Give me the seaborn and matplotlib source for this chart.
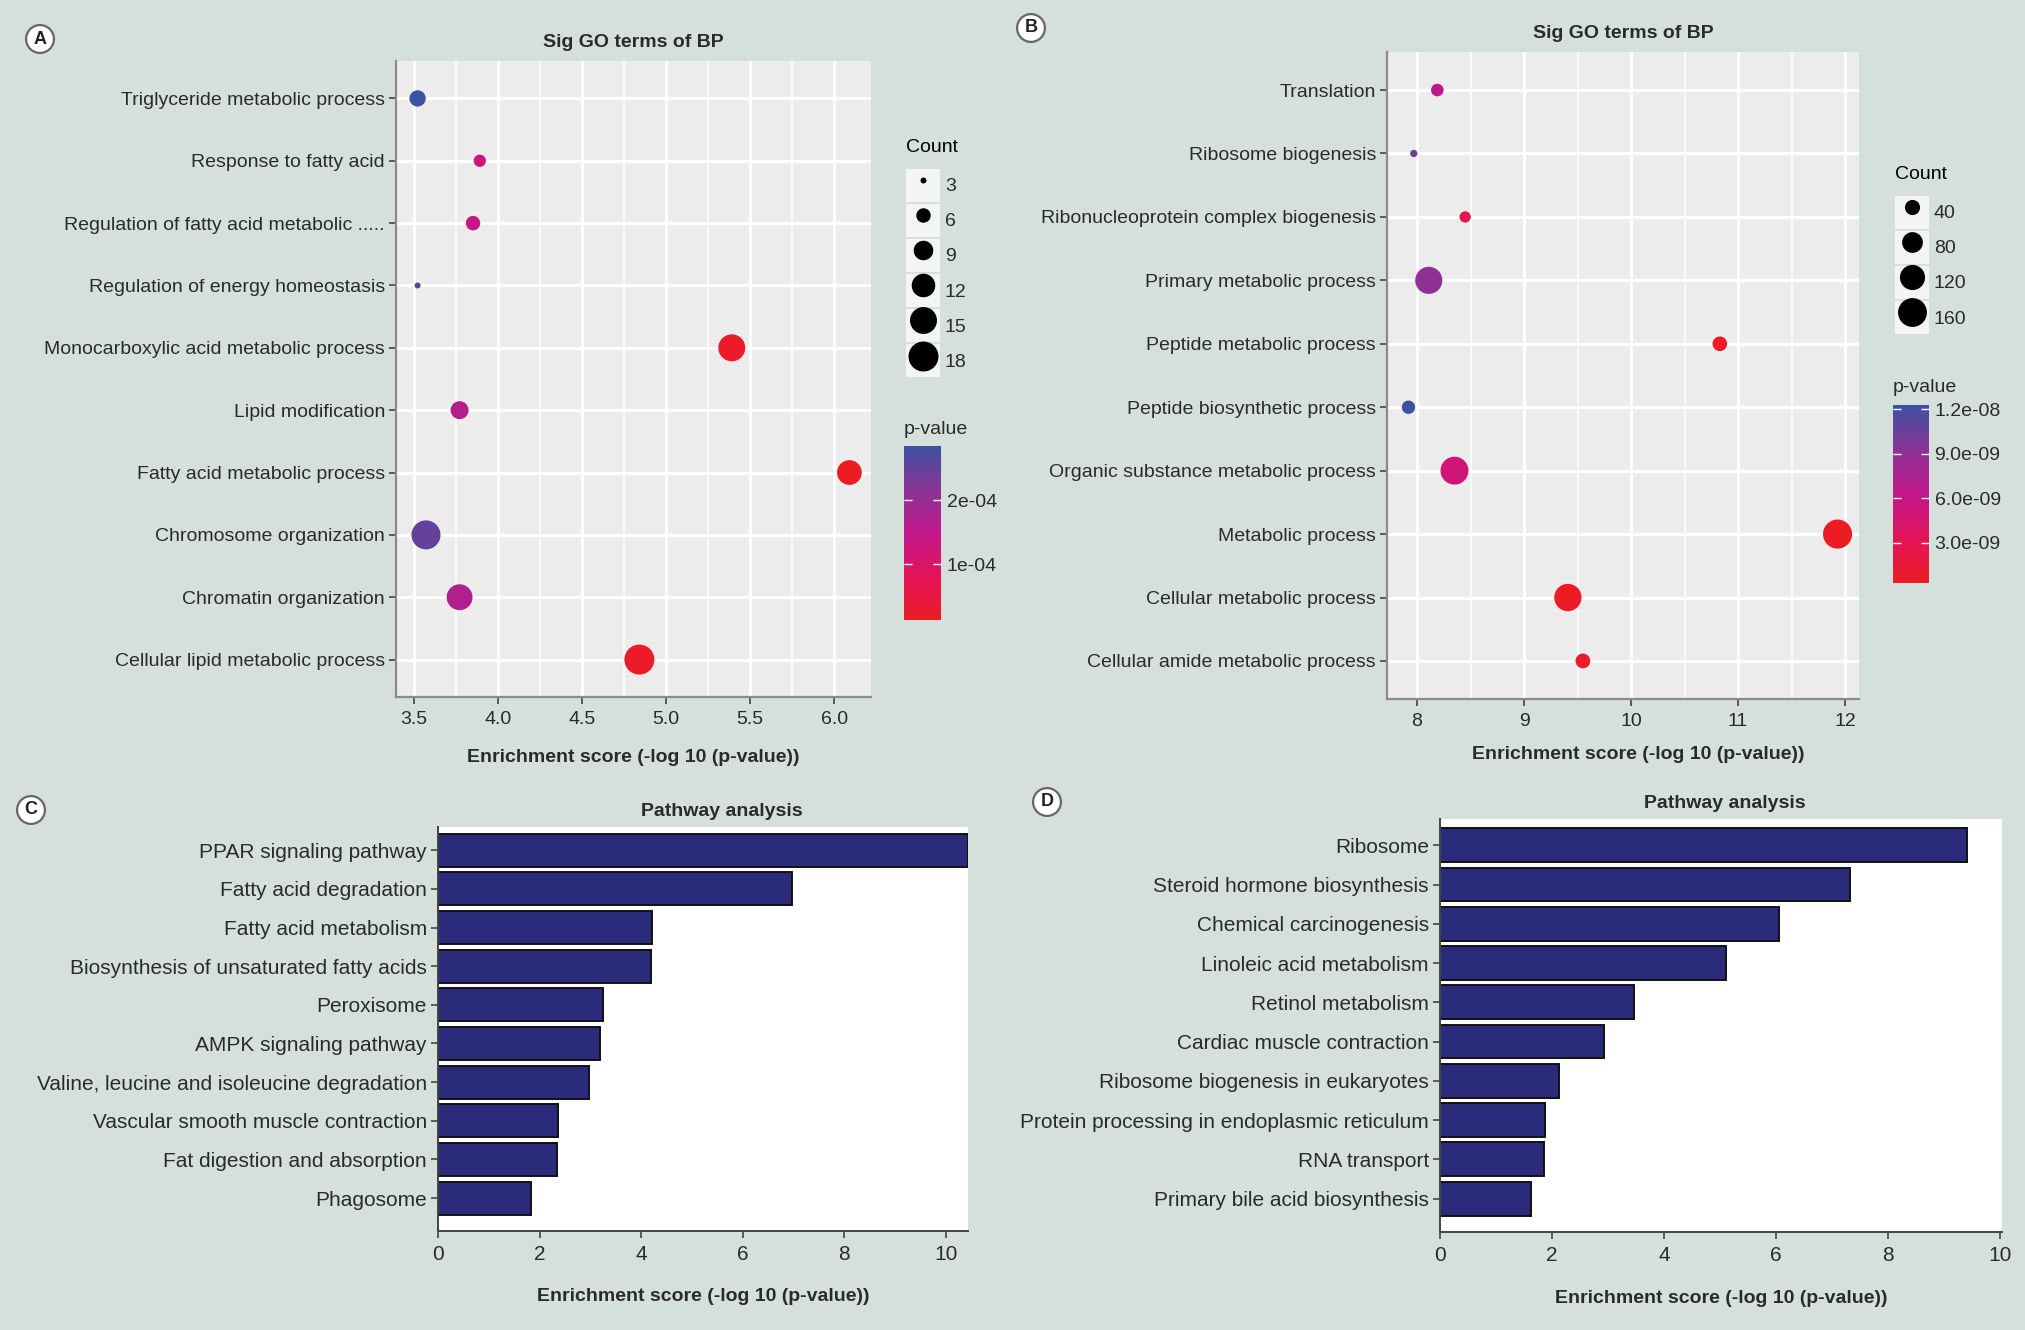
import matplotlib
matplotlib.use('Agg')
import matplotlib.pyplot as plt
import seaborn as sns
import pandas as pd
import numpy as np
from matplotlib.colors import LinearSegmentedColormap, Normalize
from matplotlib.lines import Line2D
from matplotlib.patches import Patch
from matplotlib.ticker import AutoMinorLocator, MultipleLocator
import matplotlib.cm as cm

plt.rcParams['font.family'] = ['Liberation Sans', 'DejaVu Sans']

# ---------------- data ----------------
# A: GO BP terms, listed top to bottom
a_terms = ['Triglyceride metabolic process', 'Response to fatty acid',
           'Regulation of fatty acid metabolic .....', 'Regulation of energy homeostasis',
           'Monocarboxylic acid metabolic process', 'Lipid modification',
           'Fatty acid metabolic process', 'Chromosome organization',
           'Chromatin organization', 'Cellular lipid metabolic process']
a_score = [3.52, 3.89, 3.85, 3.52, 5.39, 3.77, 6.09, 3.57, 3.77, 4.84]
a_count = [7, 5, 6, 3, 15, 8, 13, 17, 14, 18]
a_pval = [2.84e-4, 1.27e-4, 1.35e-4, 2.78e-4, 1.9e-5, 1.62e-4, 1.34e-5, 2.5e-4, 1.7e-4, 2.2e-5]
a_count_ticks = [3, 6, 9, 12, 15, 18]
a_p_ticks = [1e-4, 2e-4]
a_p_labels = ['1e-04', '2e-04']

# B: GO BP terms, listed top to bottom
b_terms = ['Translation', 'Ribosome biogenesis', 'Ribonucleoprotein complex biogenesis',
           'Primary metabolic process', 'Peptide metabolic process',
           'Peptide biosynthetic process', 'Organic substance metabolic process',
           'Metabolic process', 'Cellular metabolic process',
           'Cellular amide metabolic process']
b_score = [8.19, 7.97, 8.45, 8.11, 10.83, 7.92, 8.35, 11.93, 9.41, 9.55]
b_count = [26, 5, 20, 141, 37, 30, 150, 163, 143, 38]
b_pval = [6.5e-9, 1.05e-8, 2.9e-9, 8.9e-9, 6.0e-10, 1.227e-8, 5.1e-9, 2.8e-10, 4.5e-10, 7.0e-10]
b_count_ticks = [40, 80, 120, 160]
b_p_ticks = [3e-9, 6e-9, 9e-9, 1.2e-8]
b_p_labels = ['3.0e-09', '6.0e-09', '9.0e-09', '1.2e-08']

# C: pathways
c_paths = ['PPAR signaling pathway', 'Fatty acid degradation', 'Fatty acid metabolism',
           'Biosynthesis of unsaturated fatty acids', 'Peroxisome', 'AMPK signaling pathway',
           'Valine, leucine and isoleucine degradation', 'Vascular smooth muscle contraction',
           'Fat digestion and absorption', 'Phagosome']
c_score = [10.44, 6.97, 4.21, 4.19, 3.26, 3.20, 2.97, 2.37, 2.35, 1.83]

# D: pathways
d_paths = ['Ribosome', 'Steroid hormone biosynthesis', 'Chemical carcinogenesis',
           'Linoleic acid metabolism', 'Retinol metabolism', 'Cardiac muscle contraction',
           'Ribosome biogenesis in eukaryotes', 'Protein processing in endoplasmic reticulum',
           'RNA transport', 'Primary bile acid biosynthesis']
d_score = [9.40, 7.31, 6.05, 5.11, 3.47, 2.92, 2.12, 1.88, 1.85, 1.63]

# ---------------- style ----------------
W, H = 2025, 1330
BG = '#D6E0DA'
PANEL = '#EBECEB'
NAVY = '#2B2B7B'
TXT = '#2a2a2a'
XLAB = 'Enrichment score (-log 10 (p-value))'
pcmap = LinearSegmentedColormap.from_list(
    'pval', ['#EC1C24', '#E3145A', '#C2168A', '#8A3396', '#3D51A3'])


def rect(l, t, r, b):
    return [l / W, 1 - b / H, (r - l) / W, (b - t) / H]


def pt2(d_px):
    return (d_px * 0.72) ** 2


a_sizes = (pt2(6), pt2(30))
b_sizes = (pt2(7.3), pt2(29.1))

fig = plt.figure(figsize=(W / 100, H / 100), dpi=100, facecolor=BG)


def dot_panel(box, terms, score, count, pval, sizes, step, xlab_x, xlab_y):
    ax = fig.add_axes(box)
    df = pd.DataFrame({'term': terms, 'score': score, 'count': count, 'pval': pval})
    sns.scatterplot(data=df, x='score', y='term', size='count', sizes=sizes,
                    size_norm=(min(count), max(count)), hue='pval', palette=pcmap,
                    hue_norm=(min(pval), max(pval)), linewidth=0, legend=False,
                    ax=ax, zorder=3)
    pad = 0.05 * (max(score) - min(score))
    ax.set_xlim(min(score) - pad, max(score) + pad)
    ax.set_ylim(len(terms) - 0.4, -0.6)
    ax.set_facecolor(PANEL)
    ax.xaxis.set_major_locator(MultipleLocator(step))
    ax.xaxis.set_minor_locator(AutoMinorLocator(2))
    ax.grid(which='major', color='white', lw=2.2)
    ax.grid(which='minor', axis='x', color='white', lw=1.1)
    ax.set_axisbelow(True)
    for s in ['top', 'right']:
        ax.spines[s].set_visible(False)
    for s in ['left', 'bottom']:
        ax.spines[s].set_color('#8a8a8a')
        ax.spines[s].set_linewidth(1.6)
    ax.tick_params(which='major', length=5, width=1.2, color='#444', labelsize=14,
                   labelcolor=TXT, pad=3)
    ax.tick_params(axis='x', which='major', pad=5)
    ax.tick_params(which='minor', length=0)
    ax.set_ylabel('')
    ax.set_title('Sig GO terms of BP', fontsize=14, fontweight='bold', color=TXT, pad=10)
    ax.set_xlabel(XLAB, fontsize=14, fontweight='bold', color=TXT)
    ax.xaxis.set_label_coords(xlab_x, xlab_y)
    return ax


def bar_panel(box, paths, score, xmax, top_pad, title_x):
    ax = fig.add_axes(box)
    df = pd.DataFrame({'pathway': paths, 'score': score})
    sns.barplot(data=df, x='score', y='pathway', color=NAVY, saturation=1, width=0.86,
                edgecolor='#111111', linewidth=1.4, ax=ax)
    ax.set_xlim(0, xmax)
    ax.set_ylim(len(paths) - 0.15, -top_pad)
    ax.set_facecolor('white')
    ax.xaxis.set_major_locator(MultipleLocator(2))
    for s in ['top', 'right']:
        ax.spines[s].set_visible(False)
    for s in ['left', 'bottom']:
        ax.spines[s].set_color('#444')
        ax.spines[s].set_linewidth(1.4)
    ax.tick_params(length=5, width=1.2, color='#444', labelsize=15, labelcolor=TXT, pad=3)
    ax.tick_params(axis='x', pad=5)
    ax.set_ylabel('')
    ax.set_title('Pathway analysis', fontsize=14, fontweight='bold', color=TXT, pad=8,
                 x=title_x)
    ax.set_xlabel(XLAB, fontsize=14, fontweight='bold', color=TXT)
    ax.xaxis.set_label_coords(0.5, -0.14)
    return ax


def count_legend(ticks, count, sizes, x, y):
    lo, hi = min(count), max(count)
    handles = []
    for t in ticks:
        area = sizes[0] + (t - lo) / (hi - lo) * (sizes[1] - sizes[0])
        dot = Line2D([], [], marker='o', ls='', color='black', markeredgewidth=0,
                     markersize=np.sqrt(area))
        handles.append((Patch(facecolor='#F3F5F3', edgecolor='none'), dot))
    leg = fig.legend(handles, [str(t) for t in ticks], title='Count', loc='upper left',
                     bbox_to_anchor=(x / W, 1 - y / H), bbox_transform=fig.transFigure,
                     frameon=False, handlelength=1.75, handleheight=2.25,
                     handletextpad=0.25, labelspacing=0.1, borderpad=0, borderaxespad=0,
                     fontsize=14, title_fontsize=14, alignment='left', labelcolor=TXT)
    leg._legend_box.sep = 9


def p_bar(box, pval, ticks, labels, tx, ty):
    cax = fig.add_axes(box)
    sm = cm.ScalarMappable(norm=Normalize(min(pval), max(pval)), cmap=pcmap)
    cb = fig.colorbar(sm, cax=cax, ticks=ticks)
    cb.set_ticklabels(labels)
    cb.outline.set_visible(False)
    cax.tick_params(direction='in', color='white', length=6, width=1, left=True,
                    right=True, labelsize=14, labelcolor=TXT, pad=4)
    fig.text(tx / W, 1 - ty / H, 'p-value', fontsize=14, color=TXT, ha='left', va='center')


def panel_letter(letter, x, y):
    fig.text(x / W, 1 - y / H, letter, ha='center', va='center', fontsize=13,
             fontweight='bold', color='#222',
             bbox=dict(boxstyle='circle,pad=0.3', fc='white', ec='#666', lw=1.6))


# A
dot_panel(rect(396, 61, 871, 697), a_terms, a_score, a_count, a_pval, a_sizes, 0.5,
          0.5, -0.082)
count_legend(a_count_ticks, a_count, a_sizes, 906, 139)
p_bar(rect(904, 446, 941, 620), a_pval, a_p_ticks, a_p_labels, 904, 430)
panel_letter('A', 40, 39)

# B
dot_panel(rect(1387, 52, 1859, 699), b_terms, b_score, b_count, b_pval, b_sizes, 1,
          0.532, -0.072)
count_legend(b_count_ticks, b_count, b_sizes, 1895, 166)
p_bar(rect(1893, 405, 1929, 583), b_pval, b_p_ticks, b_p_labels, 1893, 387)
panel_letter('B', 1031, 28)

# C
bar_panel(rect(438, 827, 968, 1231), c_paths, c_score, max(c_score), 0.6, 0.536)
panel_letter('C', 31, 810)

# D
bar_panel(rect(1440, 819, 2002, 1232), d_paths, d_score, 10.03, 0.67, 0.507)
panel_letter('D', 1047, 802)

fig.savefig('out.png', dpi=100, facecolor=BG)
